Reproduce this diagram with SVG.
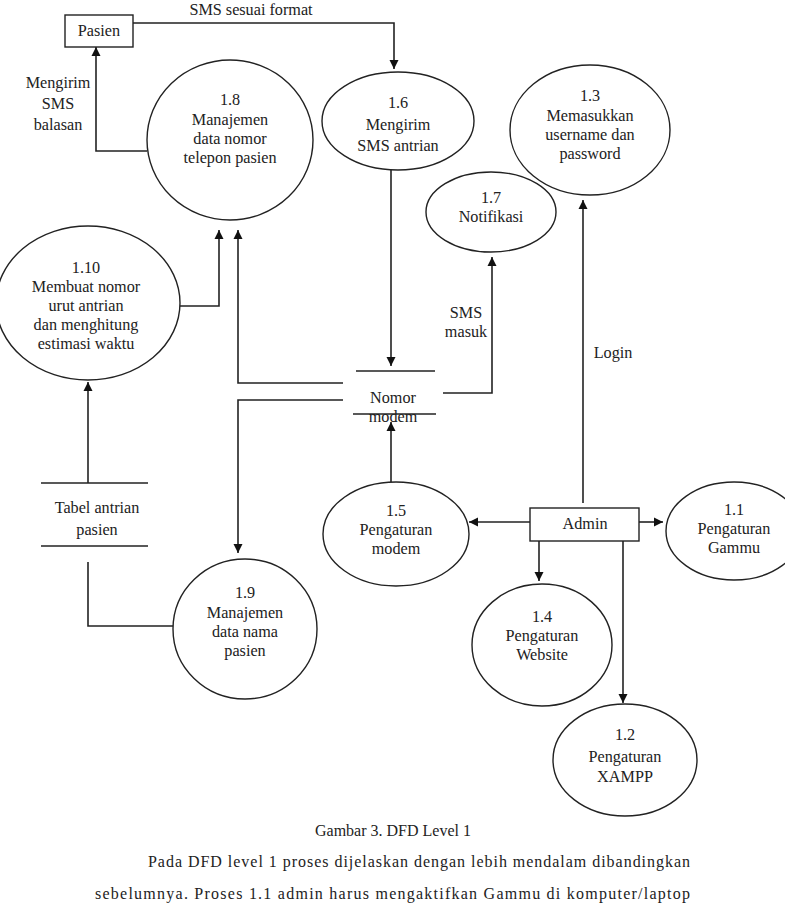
<svg xmlns="http://www.w3.org/2000/svg" width="785" height="916" viewBox="0 0 785 916" font-family="'Liberation Serif', 'Times New Roman', Tinos, 'DejaVu Serif', serif">
<style>
text{font-family:'Liberation Serif','Times New Roman',Tinos,'DejaVu Serif',serif;font-size:16.2px;fill:#222;text-anchor:middle}
.n{fill:#fff;stroke:#222;stroke-width:1.4}
.c{fill:none;stroke:#222;stroke-width:1.6}
.s{stroke:#222;stroke-width:1.6}
.p{font-size:16px;text-anchor:start}
</style>
<defs>
<marker id="a" markerUnits="userSpaceOnUse" markerWidth="10" markerHeight="10" refX="9" refY="5" orient="auto">
<path d="M0,0.5 L9,5 L0,9.5 z" fill="#111"/>
</marker>
</defs>
<g id="connectors">
<path class="c" d="M133,23 H394 V69" marker-end="url(#a)"/>
<path class="c" d="M147,151 H96 V47" marker-end="url(#a)"/>
<path class="c" d="M180,306 H219 V230" marker-end="url(#a)"/>
<path class="c" d="M343,383 H238 V230" marker-end="url(#a)"/>
<path class="c" d="M343,400 H238 V553" marker-end="url(#a)"/>
<path class="c" d="M391,170 V366" marker-end="url(#a)"/>
<path class="c" d="M443,393 H492 V257" marker-end="url(#a)"/>
<path class="c" d="M391,482 V422" marker-end="url(#a)"/>
<path class="c" d="M88,483 V382" marker-end="url(#a)"/>
<path class="c" d="M173,626 H88 V562"/>
<path class="c" d="M583,503 V200" marker-end="url(#a)"/>
<path class="c" d="M530,522 H469" marker-end="url(#a)"/>
<path class="c" d="M639,522 H663" marker-end="url(#a)"/>
<path class="c" d="M539,541 V581" marker-end="url(#a)"/>
<path class="c" d="M623,541 V703" marker-end="url(#a)"/>
<text x="251" y="15">SMS sesuai format</text>
<text x="58" y="88">Mengirim</text>
<text x="58" y="109">SMS</text>
<text x="58" y="130">balasan</text>
<text x="466" y="318">SMS</text>
<text x="466" y="337">masuk</text>
<text x="613" y="358">Login</text>
</g>
<g id="pasien">
<rect class="n" x="65" y="15" width="68" height="32"/>
<text x="99" y="36">Pasien</text>
</g>
<g id="admin">
<rect class="n" x="530" y="508" width="109" height="33"/>
<text x="585" y="529">Admin</text>
</g>
<g id="p1_8">
<ellipse class="n" cx="230" cy="140" rx="83" ry="80"/>
<text x="230" y="105">1.8</text>
<text x="230" y="125">Manajemen</text>
<text x="230" y="144">data nomor</text>
<text x="230" y="163">telepon pasien</text>
</g>
<g id="p1_6">
<ellipse class="n" cx="398" cy="121" rx="76" ry="49"/>
<text x="398" y="108">1.6</text>
<text x="398" y="130">Mengirim</text>
<text x="398" y="151">SMS antrian</text>
</g>
<g id="p1_3">
<ellipse class="n" cx="590" cy="130" rx="80" ry="65"/>
<text x="590" y="101">1.3</text>
<text x="590" y="121">Memasukkan</text>
<text x="590" y="140">username dan</text>
<text x="590" y="159">password</text>
</g>
<g id="p1_7">
<ellipse class="n" cx="491" cy="212" rx="65" ry="40"/>
<text x="491" y="203">1.7</text>
<text x="491" y="222">Notifikasi</text>
</g>
<g id="p1_10">
<ellipse class="n" cx="88" cy="303" rx="92" ry="77"/>
<text x="86" y="273">1.10</text>
<text x="86" y="292">Membuat nomor</text>
<text x="86" y="311">urut antrian</text>
<text x="86" y="330">dan menghitung</text>
<text x="86" y="349">estimasi waktu</text>
</g>
<g id="nomor_modem">
<line class="s" x1="356" y1="371" x2="435" y2="371"/>
<line class="s" x1="353" y1="414" x2="436" y2="414"/>
<text x="393" y="403">Nomor</text>
<text x="393" y="422">modem</text>
</g>
<g id="tabel_antrian">
<line class="s" x1="41" y1="483" x2="148" y2="483"/>
<line class="s" x1="41" y1="546" x2="148" y2="546"/>
<text x="97" y="513">Tabel antrian</text>
<text x="97" y="535">pasien</text>
</g>
<g id="p1_5">
<ellipse class="n" cx="396" cy="534" rx="73" ry="52"/>
<text x="396" y="516">1.5</text>
<text x="396" y="535">Pengaturan</text>
<text x="396" y="554">modem</text>
</g>
<g id="p1_1">
<ellipse class="n" cx="734" cy="531" rx="68" ry="49"/>
<text x="734" y="515">1.1</text>
<text x="734" y="534">Pengaturan</text>
<text x="734" y="553">Gammu</text>
</g>
<g id="p1_9">
<ellipse class="n" cx="245" cy="629" rx="72" ry="70"/>
<text x="245" y="598">1.9</text>
<text x="245" y="618">Manajemen</text>
<text x="245" y="637">data nama</text>
<text x="245" y="656">pasien</text>
</g>
<g id="p1_4">
<ellipse class="n" cx="542" cy="645" rx="70" ry="61"/>
<text x="542" y="622">1.4</text>
<text x="542" y="641">Pengaturan</text>
<text x="542" y="660">Website</text>
</g>
<g id="p1_2">
<ellipse class="n" cx="625" cy="760" rx="72" ry="56"/>
<text x="625" y="740">1.2</text>
<text x="625" y="762">Pengaturan</text>
<text x="625" y="782">XAMPP</text>
</g>
<g id="caption">
<text x="393" y="836" style="font-size:16px">Gambar 3. DFD Level 1</text>
<text class="p" x="148" y="867" textLength="542" lengthAdjust="spacing">Pada DFD level 1 proses dijelaskan dengan lebih mendalam dibandingkan</text>
<text class="p" x="95" y="899" textLength="595" lengthAdjust="spacing">sebelumnya. Proses 1.1 admin harus mengaktifkan Gammu di komputer/laptop</text>
</g>
</svg>
